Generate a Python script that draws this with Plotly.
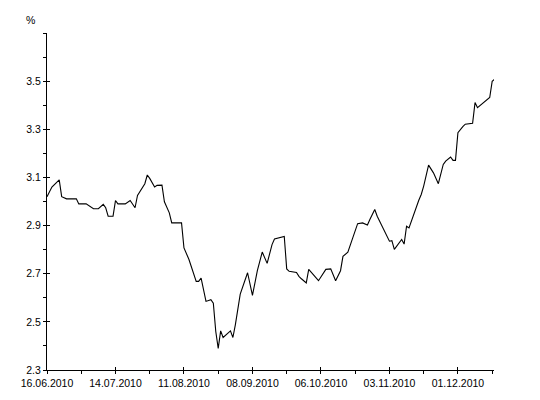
import plotly.graph_objects as go

dates = [
    "2010-06-16", "2010-06-18", "2010-06-21", "2010-06-22", "2010-06-24", "2010-06-28",
    "2010-06-29", "2010-07-02", "2010-07-05", "2010-07-07", "2010-07-09", "2010-07-10",
    "2010-07-11", "2010-07-13", "2010-07-14", "2010-07-15", "2010-07-18", "2010-07-20",
    "2010-07-22", "2010-07-23", "2010-07-26", "2010-07-27", "2010-07-28", "2010-07-30",
    "2010-07-31", "2010-08-02", "2010-08-03", "2010-08-05", "2010-08-06", "2010-08-10",
    "2010-08-11", "2010-08-13", "2010-08-16", "2010-08-17", "2010-08-18", "2010-08-20",
    "2010-08-22", "2010-08-23", "2010-08-24", "2010-08-25", "2010-08-26", "2010-08-27",
    "2010-08-30", "2010-08-31", "2010-09-01", "2010-09-03", "2010-09-06", "2010-09-08",
    "2010-09-10", "2010-09-12", "2010-09-14", "2010-09-16", "2010-09-17", "2010-09-20",
    "2010-09-21", "2010-09-22", "2010-09-23", "2010-09-26", "2010-09-27", "2010-09-28",
    "2010-09-30", "2010-10-01", "2010-10-05", "2010-10-08", "2010-10-10", "2010-10-12",
    "2010-10-14", "2010-10-15", "2010-10-17", "2010-10-19", "2010-10-21", "2010-10-23",
    "2010-10-25", "2010-10-26", "2010-10-28", "2010-10-29", "2010-11-02", "2010-11-03",
    "2010-11-04", "2010-11-05", "2010-11-08", "2010-11-09", "2010-11-10", "2010-11-11",
    "2010-11-15", "2010-11-16", "2010-11-17", "2010-11-19", "2010-11-21", "2010-11-23",
    "2010-11-25", "2010-11-26", "2010-11-28", "2010-11-29", "2010-11-30", "2010-12-01",
    "2010-12-03", "2010-12-04", "2010-12-07", "2010-12-08", "2010-12-09", "2010-12-14",
    "2010-12-15", "2010-12-16",
]
values = [
    3.02, 3.06, 3.09, 3.02, 3.011, 3.011,
    2.99, 2.99, 2.97, 2.97, 2.988, 2.974,
    2.939, 2.939, 3.004, 2.99, 2.99, 3.004,
    2.974, 3.025, 3.074, 3.11, 3.096, 3.06,
    3.067, 3.068, 2.999, 2.953, 2.911, 2.911,
    2.807, 2.76, 2.668, 2.668, 2.682, 2.585,
    2.592, 2.578, 2.46, 2.39, 2.4625, 2.435,
    2.4625, 2.435, 2.4875, 2.615, 2.704, 2.61,
    2.7125, 2.79, 2.743, 2.821, 2.844, 2.853,
    2.855, 2.72, 2.71, 2.705, 2.689, 2.679,
    2.662, 2.718, 2.671, 2.718, 2.72, 2.671,
    2.7125, 2.772, 2.789, 2.849, 2.908, 2.911,
    2.902, 2.925, 2.967, 2.939, 2.85, 2.835,
    2.8375, 2.801, 2.842, 2.823, 2.897, 2.89,
    3.005, 3.029, 3.064, 3.151, 3.119, 3.074,
    3.154, 3.168, 3.185, 3.171, 3.171, 3.286,
    3.311, 3.321, 3.325, 3.411, 3.39, 3.432,
    3.499, 3.508,
]

x_tick_vals = ["2010-06-16", "2010-07-14", "2010-08-11", "2010-09-08",
               "2010-10-06", "2010-11-03", "2010-12-01"]
x_tick_text = ["16.06.2010", "14.07.2010", "11.08.2010", "08.09.2010",
               "06.10.2010", "03.11.2010", "01.12.2010"]
y_tick_vals = [2.3, 2.5, 2.7, 2.9, 3.1, 3.3, 3.5]
y_tick_text = ["2.3", "2.5", "2.7", "2.9", "3.1", "3.3", "3.5"]

x_range = ["2010-06-16", "2010-12-15 18:00"]
y_range = [2.3, 3.7]
day_ms = 86400000

font = dict(family="Liberation Sans, Arial, sans-serif", size=10.5, color="#000000")

fig = go.Figure()
fig.add_trace(go.Scatter(x=dates, y=values, mode="lines",
                         line=dict(color="#000000", width=1.1),
                         hoverinfo="skip", showlegend=False))
# helper trace for the overlay axes (draws the inner half of the crossing ticks)
fig.add_trace(go.Scatter(x=dates, y=values, mode="lines", xaxis="x2", yaxis="y2",
                         line=dict(color="rgba(0,0,0,0)", width=0),
                         hoverinfo="skip", showlegend=False))

common_x = dict(type="date", range=x_range, tickvals=x_tick_vals,
                tickcolor="#000000", ticklen=3, tickwidth=1,
                minor=dict(dtick=14 * day_ms, tick0="2010-06-16", ticklen=3,
                           tickcolor="#000000", tickwidth=1, showgrid=False),
                showgrid=False, zeroline=False)
common_y = dict(range=y_range, tickvals=y_tick_vals,
                tickcolor="#000000", ticklen=3, tickwidth=1,
                minor=dict(dtick=0.1, tick0=2.3, ticklen=3,
                           tickcolor="#000000", tickwidth=1, showgrid=False),
                showgrid=False, zeroline=False)

# the page body adds an 8px margin, so the figure is sized/offset to compensate
fig.update_layout(
    width=524, height=384,
    margin=dict(l=39, r=38, t=25, b=22, autoexpand=False),
    paper_bgcolor="#ffffff", plot_bgcolor="#ffffff",
    font=font,
    showlegend=False,
    xaxis=dict(**common_x, ticktext=x_tick_text, ticks="outside",
               showline=True, linecolor="#000000", linewidth=1,
               tickfont=font, ticklabelstandoff=0, automargin=False),
    yaxis=dict(**common_y, ticktext=y_tick_text, ticks="outside",
               showline=True, linecolor="#000000", linewidth=1,
               tickfont=font, automargin=False),
    xaxis2=dict(**common_x, overlaying="x", anchor="y2", side="bottom",
                ticks="inside", showticklabels=False, showline=False),
    yaxis2=dict(**common_y, overlaying="y", anchor="x2", side="left",
                ticks="inside", showticklabels=False, showline=False),
    annotations=[dict(text="%", xref="paper", yref="paper",
                      x=-0.038, y=1.04, xanchor="center", yanchor="middle",
                      showarrow=False, font=font)],
)

fig.write_html("out.html")
